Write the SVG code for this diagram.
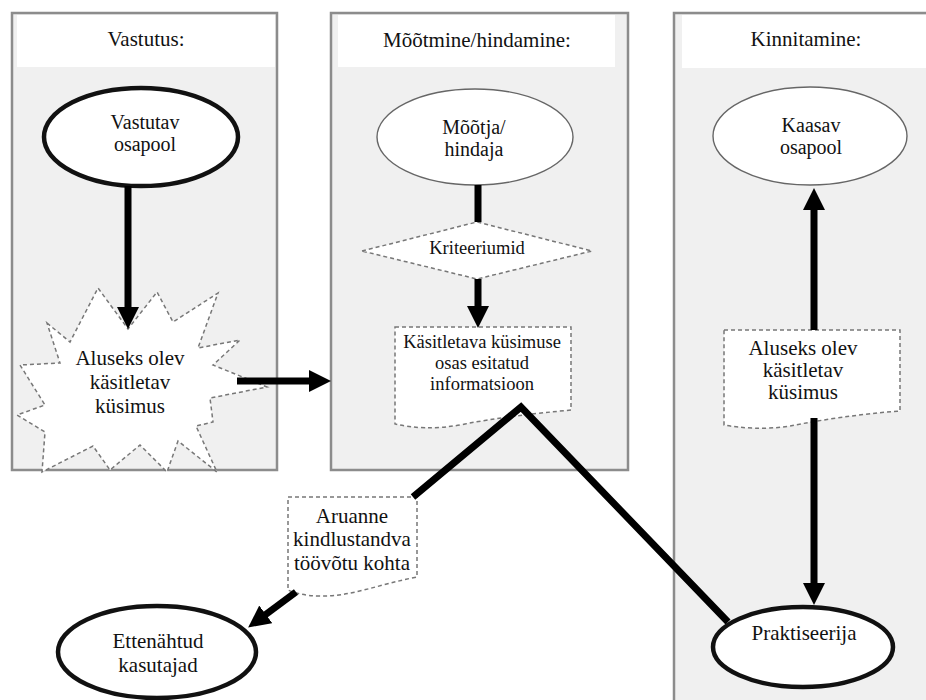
<svg xmlns="http://www.w3.org/2000/svg" width="926" height="700" viewBox="0 0 926 700">
<defs>
<style>
.panel{fill:#f0f0f0;stroke:#8c8c8c;stroke-width:2.5}
.hdr{fill:#ffffff}
.t{font-family:"Liberation Serif","DejaVu Serif",serif;font-size:21px;fill:#111;text-anchor:middle}
.ts{font-size:18.5px}
.te{font-size:20px}
.bold{fill:#ffffff;stroke:#111;stroke-width:4.5}
.thin{fill:#ffffff;stroke:#666;stroke-width:1.4}
.dash{fill:#ffffff;stroke:#777;stroke-width:1.5;stroke-dasharray:4 3}
.conn{fill:none;stroke:#000;stroke-width:7}
</style>
<marker id="ah" viewBox="0 0 22 22" refX="1" refY="11" markerWidth="22" markerHeight="22" markerUnits="userSpaceOnUse" orient="auto">
<path d="M0,0 L22,11 L0,22 Z" fill="#000"/>
</marker>
</defs>
<rect width="926" height="700" fill="#ffffff"/>

<g id="panel-vastutus">
<rect class="panel" x="12" y="13" width="265" height="457"/>
<rect class="hdr" x="17" y="15" width="258" height="52"/>
<text class="t" x="146" y="46" font-family="Liberation Serif, serif">Vastutus:</text>
</g>
<g id="panel-hindamine">
<rect class="panel" x="331" y="13" width="297" height="457"/>
<rect class="hdr" x="338" y="15" width="277" height="52"/>
<text class="t" x="477" y="47">Mõõtmine/hindamine:</text>
</g>
<g id="panel-kinnitamine">
<rect class="panel" x="674" y="13" width="266" height="700"/>
<rect class="hdr" x="682" y="15" width="250" height="53"/>
<text class="t" x="806" y="46">Kinnitamine:</text>
</g>

<g id="node-vastutav">
<ellipse class="bold" cx="141" cy="137" rx="97" ry="49"/>
<text class="t te" x="145" y="129">Vastutav</text>
<text class="t te" x="145" y="151">osapool</text>
</g>
<g id="node-kasitletav">
<polygon class="dash" points="47,323 70,342 98,288 128,329 157,292 173,322 218,293 198,348 240,340 213,365 267,387 210,398 213,422 196,426 217,472 178,441 167,472 140,445 110,470 93,446 42,472 45,432 17,415 45,405 20,365 60,363"/>
<text class="t" x="130" y="365">Aluseks olev</text>
<text class="t" x="130" y="389">käsitletav</text>
<text class="t" x="130" y="413">küsimus</text>
</g>
<g id="node-mootja">
<ellipse class="thin" cx="475" cy="137" rx="98" ry="48"/>
<text class="t te" x="474" y="134">Mõõtja/</text>
<text class="t te" x="474" y="156">hindaja</text>
</g>
<g id="node-kriteeriumid">
<polygon class="dash" points="362,251 477,222 592,251 477,279"/>
<text class="t ts" x="477" y="254">Kriteeriumid</text>
</g>
<g id="node-informatsioon">
<path class="dash" d="M395,327 H571 V410 C 530,414 495,418 465,424 C 435,430 412,428 395,424 Z"/>
<text class="t ts" x="482" y="348">Käsitletava küsimuse</text>
<text class="t ts" x="482" y="369">osas esitatud</text>
<text class="t ts" x="482" y="390">informatsioon</text>
</g>
<g id="node-kaasav">
<ellipse class="thin" cx="810" cy="136" rx="97" ry="49"/>
<text class="t te" x="811" y="132">Kaasav</text>
<text class="t te" x="811" y="154">osapool</text>
</g>
<g id="node-kasitletav2">
<path class="dash" d="M724,330 H900 V411 C 860,414 820,420 790,426 C 765,430 740,428 724,425 Z"/>
<text class="t" x="803" y="355">Aluseks olev</text>
<text class="t" x="803" y="377">käsitletav</text>
<text class="t" x="803" y="399">küsimus</text>
</g>
<g id="node-aruanne">
<path class="dash" d="M288,497 H417 V577 C 380,584 350,597 320,596 C 305,596 295,593 288,590 Z"/>
<text class="t" x="352" y="523">Aruanne</text>
<text class="t" x="352" y="546">kindlustandva</text>
<text class="t" x="352" y="570">töövõtu kohta</text>
</g>
<g id="node-ettenahtud">
<ellipse class="bold" cx="157" cy="652" rx="99" ry="46"/>
<text class="t" x="158" y="648">Ettenähtud</text>
<text class="t" x="158" y="672">kasutajad</text>
</g>
<g id="node-praktiseerija">
<ellipse class="bold" cx="803" cy="647" rx="90" ry="40"/>
<text class="t" x="804" y="640">Praktiseerija</text>
</g>

<g id="connectors">
<line class="conn" x1="128" y1="186" x2="128" y2="308" marker-end="url(#ah)"/>
<line class="conn" x1="237" y1="381" x2="310" y2="381" marker-end="url(#ah)"/>
<line class="conn" x1="478" y1="185" x2="478" y2="222"/>
<line class="conn" x1="478" y1="279" x2="478" y2="307" marker-end="url(#ah)"/>
<polyline class="conn" points="413,497 521,407 728,622"/>
<line class="conn" x1="296" y1="592" x2="265" y2="615" marker-end="url(#ah)"/>
<line class="conn" x1="814" y1="330" x2="814" y2="209" marker-end="url(#ah)"/>
<line class="conn" x1="814" y1="418" x2="814" y2="584" marker-end="url(#ah)"/>
</g>
</svg>
